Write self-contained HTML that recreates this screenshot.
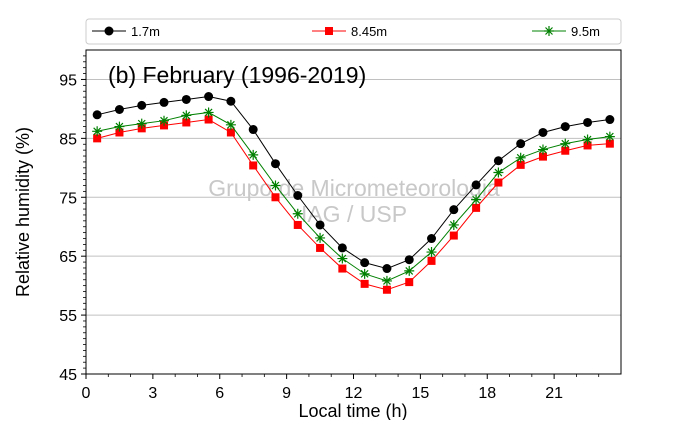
<!DOCTYPE html>
<html><head><meta charset="utf-8"><style>
body{margin:0;background:#fff;}
svg text{font-family:"Liberation Sans","DejaVu Sans",sans-serif;}
</style></head><body>
<svg id="chart" width="690" height="420" xmlns="http://www.w3.org/2000/svg">
<g id="grid"></g>
<g id="axes"></g>
<text x="108" y="83" font-size="23" fill="#000">(b) February (1996-2019)</text>
<text x="354" y="196" font-size="23" fill="#c8c8c8" text-anchor="middle">Grupo de Micrometeorologia</text>
<text x="354" y="222" font-size="23" fill="#c8c8c8" text-anchor="middle">IAG / USP</text>
<g id="series"></g>
<text x="353" y="417" font-size="18" text-anchor="middle">Local time (h)</text>
<text transform="translate(29,212) rotate(-90)" font-size="18" text-anchor="middle">Relative humidity (%)</text>
<g id="legend"></g>
</svg>
<script>
const hours=[0.5,1.5,2.5,3.5,4.5,5.5,6.5,7.5,8.5,9.5,10.5,11.5,12.5,13.5,14.5,15.5,16.5,17.5,18.5,19.5,20.5,21.5,22.5,23.5];
const rh17=[89.0,89.9,90.6,91.1,91.6,92.1,91.3,86.5,80.7,75.3,70.3,66.4,63.9,62.9,64.4,68.0,72.9,77.1,81.2,84.1,86.0,87.0,87.7,88.2];
const rh845=[85.0,86.0,86.7,87.2,87.7,88.2,86.0,80.4,75.0,70.3,66.4,62.9,60.3,59.3,60.6,64.2,68.5,73.2,77.5,80.5,81.9,82.9,83.8,84.1];
const rh95=[86.2,87.0,87.5,88.0,88.9,89.4,87.3,82.2,77.0,72.2,68.1,64.6,62.0,60.8,62.5,65.7,70.3,74.6,79.2,81.7,83.1,84.1,84.8,85.3];
const xTicks=[0,3,6,9,12,15,18,21];
const yTicks=[45,55,65,75,85,95];
const seriesNames=["1.7m","8.45m","9.5m"];
const L=86,R=621,T=50,B=374;
const X=v=>L+(v-0)/24*(R-L);
const Y=v=>B-(v-45)/55*(B-T);
const NS="http://www.w3.org/2000/svg";
function mk(tag,attrs,parent){const e=document.createElementNS(NS,tag);for(const k in attrs)e.setAttribute(k,attrs[k]);parent.appendChild(e);return e;}
const grid=document.getElementById('grid'),axes=document.getElementById('axes'),ser=document.getElementById('series'),leg=document.getElementById('legend');
yTicks.forEach(t=>{
 const g=mk('line',{x1:L,x2:R,y1:Y(t),y2:Y(t),stroke:'#c0c0c0','stroke-width':1},grid);
 
 
 const tk=mk('line',{x1:L-5,x2:L,y1:Y(t),y2:Y(t),stroke:'#000'},axes);
 
 
 const tx=mk('text',{x:L-9,y:Y(t)+6,'font-size':16,'text-anchor':'end'},axes);
 tx.textContent=t;
 
 
});
for(let v=46;v<100;v++){if(v%10===5)continue;
 const m=mk('line',{x1:L-3,x2:L,y1:Y(v),y2:Y(v),stroke:'#000','stroke-width':0.8},axes);
 
 
}
xTicks.forEach(t=>{
 const tk=mk('line',{x1:X(t),x2:X(t),y1:B,y2:B+5,stroke:'#000'},axes);
 
 
 const tx=mk('text',{x:X(t),y:B+24,'font-size':16,'text-anchor':'middle'},axes);
 tx.textContent=t;
 
 
});
for(let v=1;v<24;v++){if(v%3===0)continue;
 const m=mk('line',{x1:X(v),x2:X(v),y1:B,y2:B+3,stroke:'#000','stroke-width':0.8},axes);
 
 
}
const frame=mk('rect',{x:L,y:T,width:R-L,height:B-T,fill:'none',stroke:'#000','stroke-width':1},axes);


function marker(kind,color,x,y,p){
 let e;
 if(kind==='circle'){e=mk('circle',{cx:x,cy:y,r:4.5,fill:color},p);}
 else if(kind==='square'){e=mk('rect',{x:x-4,y:y-4,width:8,height:8,fill:color},p);}
 else{e=mk('path',{d:`M${x-5} ${y}H${x+5}M${x} ${y-5}V${y+5}M${x-3.5} ${y-3.5}L${x+3.5} ${y+3.5}M${x-3.5} ${y+3.5}L${x+3.5} ${y-3.5}`,stroke:color,'stroke-width':1.2,fill:'none'},p);}
 return e;
}
const defs=[[rh17,'#000','circle'],[rh845,'#ff0000','square'],[rh95,'#008000','star']];
defs.forEach(([vals,c,k],i)=>{
 const pl=mk('polyline',{points:hours.map((h,j)=>X(h)+','+Y(vals[j])).join(' '),fill:'none',stroke:c,'stroke-width':1},ser);
 
 
 hours.forEach((h,j)=>{
  const m=marker(k,c,X(h),Y(vals[j]),ser);
  
  
 });
});
const lb=mk('rect',{x:L,y:19,width:R-L,height:25,fill:'#fff',stroke:'#ccc',rx:3},leg);


const lx=[92,312,532];
defs.forEach(([v,c,k],i)=>{
 const g=mk('g',{},leg);
 
 
 mk('line',{x1:lx[i],x2:lx[i]+34,y1:31,y2:31,stroke:c},g);
 marker(k,c,lx[i]+17,31,g);
 const t=mk('text',{x:lx[i]+39,y:36,'font-size':13},g);
 t.textContent=seriesNames[i];
});
</script>
</body></html>
